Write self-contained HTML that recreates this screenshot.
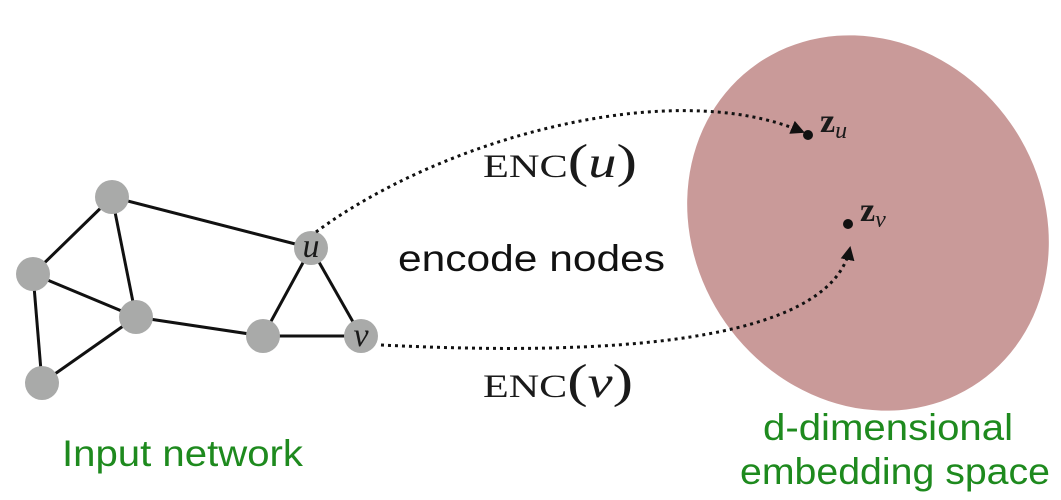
<!DOCTYPE html>
<html><head><meta charset="utf-8"><style>
html,body{margin:0;padding:0;background:#fff;}
body{width:1061px;height:500px;overflow:hidden;position:relative;}
svg{position:absolute;left:0;top:0;}
</style></head><body>
<svg width="1061" height="500" viewBox="0 0 1061 500" xmlns="http://www.w3.org/2000/svg">
<defs>
<marker id="ah" markerWidth="14" markerHeight="14" refX="12" refY="7" orient="auto" markerUnits="userSpaceOnUse">
<path d="M0,0 L14,7 L0,14 Z" fill="#111"/>
</marker>
</defs>
<ellipse cx="868" cy="223" rx="194" ry="174" transform="rotate(55 868 223)" fill="#c99a99"/>
<g stroke="#111" stroke-width="3">
<line x1="112" y1="197" x2="33" y2="274"/>
<line x1="112" y1="197" x2="136" y2="317"/>
<line x1="112" y1="197" x2="311" y2="248"/>
<line x1="33" y1="274" x2="136" y2="317"/>
<line x1="33" y1="274" x2="42" y2="383"/>
<line x1="42" y1="383" x2="136" y2="317"/>
<line x1="136" y1="317" x2="263" y2="336"/>
<line x1="263" y1="336" x2="311" y2="248"/>
<line x1="263" y1="336" x2="361" y2="336"/>
<line x1="311" y1="248" x2="361" y2="336"/>
</g>
<g fill="#a9aaa9">
<circle cx="112" cy="197" r="17"/>
<circle cx="33" cy="274" r="17"/>
<circle cx="136" cy="317" r="17"/>
<circle cx="42" cy="383" r="17"/>
<circle cx="263" cy="336" r="17"/>
<circle cx="311" cy="248" r="17"/>
<circle cx="361" cy="336" r="17"/>
</g>
<g font-family="Liberation Serif, serif" font-style="italic" fill="#1a1a1a">
<text x="311" y="257" font-size="34" text-anchor="middle">u</text>
<text x="361" y="346" font-size="34" text-anchor="middle">v</text>
</g>
<g fill="none" stroke="#111" stroke-width="3" stroke-dasharray="3,4">
<path d="M316,232 C440,140 670,75 803,132" marker-end="url(#ah)"/>
<path d="M381,345 C600,356 830,345 850,248" marker-end="url(#ah)"/>
</g>
<circle cx="808" cy="135" r="5" fill="#111"/>
<circle cx="848" cy="224" r="5" fill="#111"/>
<g font-family="Liberation Serif, serif" fill="#1a1a1a">
<text x="820" y="132" font-size="34" font-weight="bold">z<tspan font-size="24" font-style="italic" font-weight="normal" dy="6">u</tspan></text>
<text x="860" y="221" font-size="34" font-weight="bold">z<tspan font-size="24" font-style="italic" font-weight="normal" dy="6">v</tspan></text>
<text x="483" y="177" font-size="33" textLength="154" lengthAdjust="spacingAndGlyphs">ENC<tspan font-size="48">(</tspan><tspan font-size="44" font-style="italic">u</tspan><tspan font-size="48">)</tspan></text>
<text x="483" y="397" font-size="33" textLength="150" lengthAdjust="spacingAndGlyphs">ENC<tspan font-size="48">(</tspan><tspan font-size="44" font-style="italic">v</tspan><tspan font-size="48">)</tspan></text>
</g>
<g font-family="Liberation Sans, sans-serif">
<text x="398" y="271" font-size="37" fill="#111" textLength="267" lengthAdjust="spacingAndGlyphs">encode nodes</text>
<text x="62" y="466" font-size="37" fill="#1e8a1e" textLength="241" lengthAdjust="spacingAndGlyphs">Input network</text>
<text x="763" y="440" font-size="37" fill="#1e8a1e" textLength="250" lengthAdjust="spacingAndGlyphs">d-dimensional</text>
<text x="740" y="484" font-size="37" fill="#1e8a1e" textLength="310" lengthAdjust="spacingAndGlyphs">embedding space</text>
</g>
</svg>
</body></html>
